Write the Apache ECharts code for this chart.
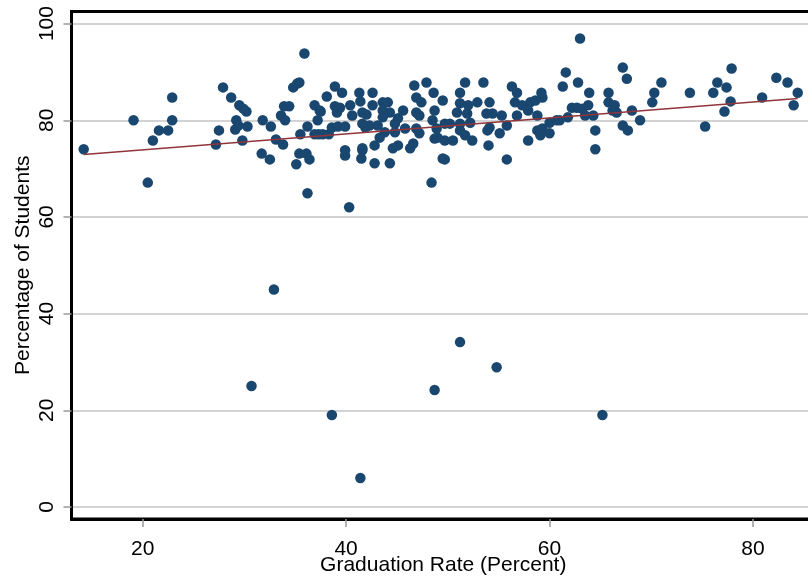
<!DOCTYPE html>
<html>
<head>
<meta charset="utf-8">
<script src="https://cdn.jsdelivr.net/npm/echarts@6/dist/echarts.min.js"></script>
<style>html,body{margin:0;padding:0;background:#fff}#c{width:808px;height:580px}</style>
</head>
<body>
<div id="c"></div>
<script>
const gradRate = [14.2,19.1,20.5,21.0,21.6,22.5,22.9,22.9,27.2,27.5,27.9,28.7,29.5,29.9,30.2,29.2,29.1,29.4,30.3,29.8,
31.8,32.6,31.7,32.5,33.1,33.8,33.6,33.9,34.4,34.0,34.8,35.2,35.4,35.9,35.1,35.4,36.1,36.4,35.5,36.2,
36.9,37.4,37.2,36.9,37.3,38.1,36.2,38.9,39.6,41.3,41.4,37.5,38.9,39.4,40.4,39.1,40.6,41.6,38.6,39.2,
39.9,38.3,37.7,41.9,39.9,39.9,41.6,41.5,42.6,42.6,43.6,44.1,42.0,43.6,44.3,45.6,46.7,47.9,48.6,46.9,
47.4,49.5,46.9,48.7,47.2,45.1,43.6,41.6,42.3,43.1,44.8,43.8,44.8,45.8,46.9,47.2,48.5,48.9,49.0,49.7,
43.3,42.8,41.6,42.8,44.3,44.6,45.1,46.3,46.6,49.5,48.4,48.7,51.7,53.5,51.2,56.3,56.8,59.2,59.3,61.6,
61.3,51.2,52.0,52.9,50.9,51.9,54.1,53.8,54.4,55.3,56.6,57.3,58.1,58.6,57.9,56.8,58.8,55.8,60.0,60.7,
61.8,50.2,51.2,52.2,51.2,51.7,54.1,53.9,55.1,58.8,59.3,59.1,60.0,49.7,50.5,52.4,54.0,57.9,49.7,55.8,
63.0,62.8,63.9,67.2,67.6,65.8,65.8,66.4,66.6,68.1,68.9,67.2,67.7,70.1,70.3,71.0,62.2,62.7,63.2,63.8,
63.5,64.3,64.5,64.5,61.0,66.2,73.8,75.3,76.1,76.5,77.4,77.9,77.8,77.2,80.9,82.3,83.4,84.4,84.0,
30.7,32.9,38.6,41.4,48.7,51.2,54.8,65.2,40.3];
const pctStudents = [74.0,80.0,67.1,75.8,77.9,77.9,80.0,84.7,75.0,77.9,86.8,84.7,83.1,82.4,81.8,80.0,78.1,78.9,78.7,75.8,
80.0,78.7,73.1,71.9,76.0,75.0,81.0,82.9,82.9,80.0,86.8,87.6,87.8,93.8,70.9,73.1,73.1,71.9,77.1,78.7,
83.1,82.0,80.0,77.1,77.1,84.9,64.9,87.0,85.7,85.7,83.9,81.8,82.9,82.6,83.1,81.6,81.0,81.6,78.5,78.7,
78.7,77.1,77.1,78.5,73.8,72.7,73.8,72.1,85.7,83.1,83.7,83.7,81.2,82.0,81.6,82.0,87.2,87.8,85.7,84.7,
83.7,84.1,81.6,82.0,81.0,80.4,80.6,79.3,78.9,78.9,79.3,77.5,77.5,78.3,78.3,77.3,80.0,78.3,76.4,79.3,
76.4,74.8,74.2,71.1,71.1,74.2,74.8,74.2,75.2,72.1,67.1,76.2,87.8,87.8,85.7,87.0,85.7,85.7,84.7,89.9,
87.0,83.5,83.1,83.7,81.6,81.4,83.7,81.4,81.4,81.0,83.7,83.1,83.7,84.1,82.0,81.0,81.0,78.9,79.5,80.0,
80.6,79.3,79.3,79.5,77.9,76.9,78.5,77.9,77.3,77.9,78.3,76.9,77.3,75.8,75.8,75.8,74.8,75.8,71.9,71.9,
96.9,87.8,85.7,90.9,88.6,85.7,83.7,83.1,81.6,82.0,80.0,78.9,77.9,83.7,85.7,87.8,82.6,82.6,82.4,83.1,
81.0,81.0,77.9,74.0,80.0,82.0,85.7,78.7,85.7,87.8,86.8,90.7,83.9,81.8,84.7,88.8,87.8,85.7,83.1,
25.0,45.0,19.0,6.0,24.2,34.1,28.9,19.0,62.0];
const fitX = [14.2, 84.4];
const fitY = [72.9, 84.5];
const xTicks = [20, 40, 60, 80];
const yTicks = [0, 20, 40, 60, 80, 100];

const points = gradRate.map((x, i) => [x, pctStudents[i]]);
const fitLine = fitX.map((x, i) => [x, fitY[i]]);
const FONT = 'Liberation Sans';
const chart = echarts.init(document.getElementById('c'), null, {renderer: 'canvas'});
chart.setOption({
  animation: false,
  backgroundColor: '#fff',
  grid: {left: 71.5, top: 11.5, right: -7, bottom: 61, containLabel: false, outerBoundsMode: 'none',
         show: true, borderColor: '#000', borderWidth: 3, backgroundColor: 'transparent'},
  xAxis: {
    type: 'value', min: 13.0, max: 86.1,
    name: 'Graduation Rate (Percent)', nameLocation: 'middle', nameGap: 36, nameMoveOverlap: false,
    nameTextStyle: {fontFamily: FONT, fontSize: 21, color: '#000'},
    axisLine: {show: true, onZero: false, lineStyle: {color: '#000', width: 3}},
    axisTick: {show: true, length: 8, customValues: xTicks, lineStyle: {color: '#999', width: 1.5}},
    axisLabel: {customValues: xTicks, fontFamily: FONT, fontSize: 21, color: '#000', margin: 20},
    splitLine: {show: false}
  },
  yAxis: {
    type: 'value', min: -2.5, max: 102.5,
    name: 'Percentage of Students', nameLocation: 'middle', nameGap: 38, nameMoveOverlap: false,
    nameTextStyle: {fontFamily: FONT, fontSize: 21, color: '#000'},
    axisLine: {show: true, onZero: false, lineStyle: {color: '#000', width: 3}},
    axisTick: {show: true, length: 8, customValues: yTicks, lineStyle: {color: '#999', width: 1.5}},
    axisLabel: {customValues: yTicks, rotate: 90, fontFamily: FONT, fontSize: 21, color: '#000', margin: 14},
    splitLine: {show: true, lineStyle: {color: '#c4c4c4', width: 1.5}}
  },
  series: [
    {type: 'scatter', data: points, symbolSize: 10.5, itemStyle: {color: '#1a476f', opacity: 1}, z: 2},
    {type: 'line', data: fitLine, showSymbol: false, symbol: 'none', lineStyle: {color: '#90353b', width: 1.6}, z: 3}
  ]
});
</script>
</body>
</html>
